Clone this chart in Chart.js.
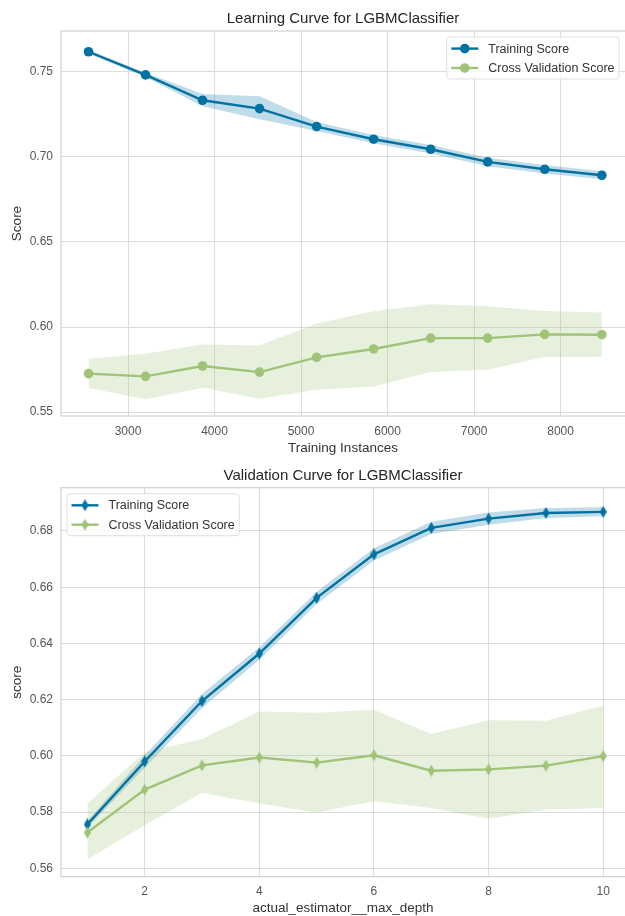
<!DOCTYPE html>
<html>
<head>
<meta charset="utf-8">
<script src="https://cdn.jsdelivr.net/npm/chart.js@4.4.1/dist/chart.umd.min.js"></script>
<style>
  html, body { margin: 0; padding: 0; background: #fff; width: 625px; height: 916px; overflow: hidden; }
  canvas { display: block; }
</style>
</head>
<body>
<canvas id="learning" width="625" height="458"></canvas>
<canvas id="validation" width="625" height="458"></canvas>
<script>
// ---- Learning curve: score vs. number of training instances ----
const trainSizes   = [2543, 3202, 3861, 4520, 5180, 5839, 6498, 7158, 7817, 8477];
const lcTrainMean  = [0.7618, 0.7482, 0.7333, 0.7284, 0.7178, 0.7104, 0.7045, 0.6971, 0.6927, 0.6892];
const lcTrainUpper = [0.7630, 0.7495, 0.7370, 0.7357, 0.7205, 0.7128, 0.7070, 0.6995, 0.6952, 0.6915];
const lcTrainLower = [0.7606, 0.7470, 0.7298, 0.7222, 0.7152, 0.7080, 0.7020, 0.6945, 0.6902, 0.6868];
const lcCvMean     = [0.5726, 0.5710, 0.5771, 0.5735, 0.5822, 0.5871, 0.5935, 0.5935, 0.5957, 0.5955];
const lcCvUpper    = [0.5814, 0.5843, 0.5898, 0.5892, 0.6020, 0.6092, 0.6134, 0.6122, 0.6094, 0.6085];
const lcCvLower    = [0.5641, 0.5575, 0.5643, 0.5579, 0.5631, 0.5651, 0.5735, 0.5749, 0.5824, 0.5824];
const lcXTicks     = [3000, 4000, 5000, 6000, 7000, 8000];
const lcYTicks     = [0.55, 0.60, 0.65, 0.70, 0.75];

// ---- Validation curve: score vs. max_depth ----
const maxDepths    = [1, 2, 3, 4, 5, 6, 7, 8, 9, 10];
const vcTrainMean  = [0.5756, 0.5980, 0.6195, 0.6364, 0.6562, 0.6717, 0.6811, 0.6844, 0.6864, 0.6868];
const vcTrainUpper = [0.5768, 0.6002, 0.6220, 0.6386, 0.6584, 0.6739, 0.6833, 0.6866, 0.6882, 0.6884];
const vcTrainLower = [0.5744, 0.5958, 0.6170, 0.6342, 0.6540, 0.6695, 0.6789, 0.6822, 0.6846, 0.6852];
const vcCvMean     = [0.5727, 0.5880, 0.5966, 0.5994, 0.5976, 0.6002, 0.5947, 0.5952, 0.5965, 0.5999];
const vcCvUpper    = [0.5830, 0.6013, 0.6060, 0.6158, 0.6153, 0.6164, 0.6078, 0.6127, 0.6125, 0.6179];
const vcCvLower    = [0.5632, 0.5753, 0.5869, 0.5830, 0.5798, 0.5838, 0.5814, 0.5776, 0.5809, 0.5814];
const vcXTicks     = [2, 4, 6, 8, 10];
const vcYTicks     = [0.56, 0.58, 0.60, 0.62, 0.64, 0.66, 0.68];

const FONT = '"Liberation Sans", Arial, Helvetica, sans-serif';
const BLUE = '#0272a2';
const GREEN = '#9fc377';
const BLUE_BAND = 'rgba(2, 114, 162, 0.25)';
const GREEN_BAND = 'rgba(159, 195, 119, 0.25)';

const pts = (xs, ys) => xs.map((x, i) => ({ x, y: ys[i] }));

// narrow diamond marker
function thinDiamond(color, w, h) {
  const c = document.createElement('canvas');
  c.width = w; c.height = h;
  const g = c.getContext('2d');
  g.fillStyle = color;
  g.beginPath();
  g.moveTo(w / 2, 0); g.lineTo(w, h / 2); g.lineTo(w / 2, h); g.lineTo(0, h / 2);
  g.closePath(); g.fill();
  return c;
}

// light frame around the plotting area (right side runs past the canvas edge)
const framePlugin = {
  id: 'frame',
  beforeDatasetsDraw(chart) {
    const { ctx, chartArea: a } = chart;
    ctx.save();
    ctx.strokeStyle = '#d2d2d2';
    ctx.lineWidth = 1.25;
    ctx.strokeRect(a.left, a.top, a.right - a.left + 20, a.bottom - a.top);
    ctx.restore();
  }
};

// boxed legend placed inside the plotting area, line + marker sample per series
const boxLegend = {
  id: 'boxLegend',
  afterDraw(chart, args, opts) {
    const { ctx, chartArea } = chart;
    const items = chart.data.datasets.filter(d => !d.band);
    ctx.save();
    ctx.font = opts.fontSize + 'px ' + FONT;
    const textW = Math.max(...items.map(d => ctx.measureText(d.label).width));
    const pad = 4.5, sample = 27, gap = 10, rowH = 19.4;
    const w = pad + sample + gap + textW + pad;
    const h = items.length * rowH + 3.2;
    const x0 = opts.align === 'right' ? chartArea.right - opts.inset - w : chartArea.left + opts.inset;
    const y0 = chartArea.top + opts.inset;
    ctx.beginPath();
    ctx.roundRect(x0, y0, w, h, 3);
    ctx.fillStyle = 'rgba(255,255,255,0.8)';
    ctx.fill();
    ctx.strokeStyle = 'rgba(215,215,215,0.8)';
    ctx.lineWidth = 1;
    ctx.stroke();
    items.forEach((d, i) => {
      const cy = y0 + 11.6 + i * rowH;
      ctx.strokeStyle = d.borderColor;
      ctx.lineWidth = d.borderWidth;
      ctx.beginPath();
      ctx.moveTo(x0 + pad, cy);
      ctx.lineTo(x0 + pad + sample, cy);
      ctx.stroke();
      const mx = x0 + pad + sample / 2;
      if (typeof d.pointStyle === 'object') {
        ctx.drawImage(d.pointStyle, mx - d.pointStyle.width / 2, cy - d.pointStyle.height / 2);
      } else {
        ctx.fillStyle = d.pointBackgroundColor;
        ctx.beginPath();
        ctx.arc(mx, cy, d.pointRadius, 0, Math.PI * 2);
        ctx.fill();
      }
      ctx.fillStyle = '#333';
      ctx.textAlign = 'left';
      ctx.textBaseline = 'middle';
      ctx.fillText(d.label, x0 + pad + sample + gap, cy + 0.5);
    });
    ctx.restore();
  }
};

function lineSet(label, xs, ys, color, marker, order) {
  const base = {
    label, data: pts(xs, ys), borderColor: color, backgroundColor: color,
    borderWidth: 2.4, tension: 0, fill: false, order, xAxisID: 'x',
    pointBackgroundColor: color, pointBorderColor: color, pointBorderWidth: 0
  };
  if (marker === 'circle') {
    base.pointStyle = 'circle';
    base.pointRadius = 4.8;
  } else {
    base.pointStyle = thinDiamond(color, 7, 12);
    base.pointRadius = 6;
  }
  return base;
}

function bandSets(xs, upper, lower, fillColor, order) {
  return [
    { band: true, data: pts(xs, upper), fill: '+1', backgroundColor: fillColor, xAxisID: 'x',
      borderWidth: 0, pointRadius: 0, showLine: false, order },
    { band: true, data: pts(xs, lower), fill: false, backgroundColor: fillColor, xAxisID: 'x',
      borderWidth: 0, pointRadius: 0, showLine: false, order }
  ];
}

// keep axes from reserving extra room for edge labels
const noEdgePadding = s => { s.paddingLeft = 0; s.paddingRight = 0; s.paddingTop = 0; s.paddingBottom = 0; };

function makeChart(el, cfg) {
  return new Chart(document.getElementById(el), {
    type: 'line',
    data: { datasets: cfg.datasets },
    plugins: [framePlugin, boxLegend],
    options: {
      responsive: false,
      animation: false,
      events: [],
      layout: { padding: 0, autoPadding: false },
      plugins: {
        legend: { display: false },
        tooltip: { enabled: false },
        title: { display: false },
        filler: { drawTime: 'beforeDatasetsDraw' },
        boxLegend: { align: cfg.legendAlign, inset: 6, fontSize: 12.5 }
      },
      scales: {
        // top axis carries only the chart title, centred over the plotting area
        top: {
          type: 'linear', position: 'top', min: cfg.xMin, max: cfg.xMax,
          afterFit: s => { s.height = cfg.titleHeight; noEdgePadding(s); },
          grid: { display: false, drawTicks: false },
          border: { display: false },
          ticks: { display: false },
          title: {
            display: true, text: cfg.title, color: '#262626',
            font: { size: 15, family: FONT }, padding: { top: cfg.titlePadTop, bottom: 0 }
          }
        },
        x: {
          type: 'linear', position: 'bottom', min: cfg.xMin, max: cfg.xMax,
          afterBuildTicks: ax => { ax.ticks = cfg.xTicks.map(v => ({ value: v })); },
          afterFit: s => { s.height = cfg.xAxisHeight; noEdgePadding(s); },
          grid: { color: '#dcdcdc', lineWidth: 1, drawTicks: false },
          border: { display: false },
          ticks: {
            autoSkip: false, maxRotation: 0, padding: cfg.xTickPad, color: '#555',
            font: { size: 12, family: FONT }, callback: v => String(v)
          },
          title: {
            display: true, text: cfg.xTitle, color: '#333',
            font: { size: 13.5, family: FONT }, padding: { top: 0, bottom: cfg.xTitlePad }
          }
        },
        y: {
          type: 'linear', min: cfg.yMin, max: cfg.yMax,
          afterBuildTicks: ax => { ax.ticks = cfg.yTicks.map(v => ({ value: v })); },
          afterFit: s => { s.width = 61; noEdgePadding(s); },
          grid: { color: '#dcdcdc', lineWidth: 1, drawTicks: false },
          border: { display: false },
          ticks: {
            autoSkip: false, padding: 8, color: '#555',
            font: { size: 12, family: FONT }, callback: v => Number(v).toFixed(2)
          },
          title: {
            display: true, text: cfg.yTitle, color: '#333',
            font: { size: 13.5, family: FONT }, padding: { top: 9, bottom: 0 }
          }
        }
      }
    }
  });
}

makeChart('learning', {
  title: 'Learning Curve for LGBMClassifier',
  titleHeight: 31, titlePadTop: 10,
  xTitle: 'Training Instances', yTitle: 'Score',
  xMin: 2225, xMax: 8745, yMin: 0.5477, yMax: 0.774,
  xTicks: lcXTicks, yTicks: lcYTicks,
  xAxisHeight: 42, xTickPad: 8.5, xTitlePad: 1.6,
  legendAlign: 'right',
  datasets: [
    lineSet('Training Score', trainSizes, lcTrainMean, BLUE, 'circle', 2),
    lineSet('Cross Validation Score', trainSizes, lcCvMean, GREEN, 'circle', 1),
    ...bandSets(trainSizes, lcTrainUpper, lcTrainLower, BLUE_BAND, 4),
    ...bandSets(trainSizes, lcCvUpper, lcCvLower, GREEN_BAND, 3)
  ]
});

makeChart('validation', {
  title: 'Validation Curve for LGBMClassifier',
  titleHeight: 29.7, titlePadTop: 8.7,
  xTitle: 'actual_estimator__max_depth', yTitle: 'score',
  xMin: 0.54, xMax: 10.38, yMin: 0.557, yMax: 0.6954,
  xTicks: vcXTicks, yTicks: vcYTicks,
  xAxisHeight: 39.3, xTickPad: 7.8, xTitlePad: 0,
  legendAlign: 'left',
  datasets: [
    lineSet('Training Score', maxDepths, vcTrainMean, BLUE, 'diamond', 2),
    lineSet('Cross Validation Score', maxDepths, vcCvMean, GREEN, 'diamond', 1),
    ...bandSets(maxDepths, vcTrainUpper, vcTrainLower, BLUE_BAND, 4),
    ...bandSets(maxDepths, vcCvUpper, vcCvLower, GREEN_BAND, 3)
  ]
});
</script>
</body>
</html>
